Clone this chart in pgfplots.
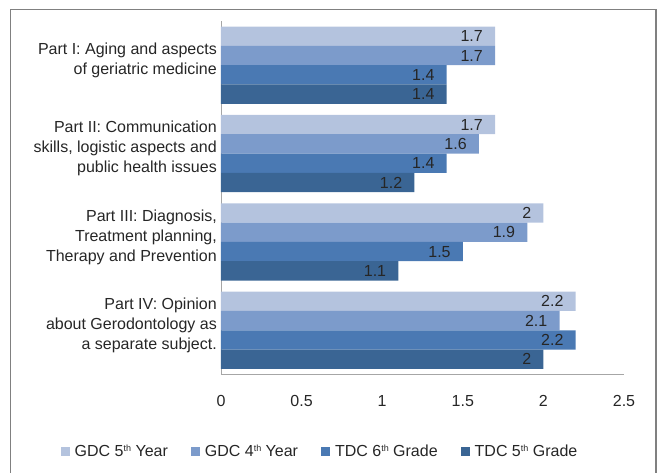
\documentclass[border=0pt]{standalone}
\usepackage{pgfplots}
\pgfplotsset{compat=1.18}
\usepackage{fontspec}
\setmainfont{Liberation Sans}
\definecolor{cA}{HTML}{B4C3DE}
\definecolor{cB}{HTML}{7C9BCB}
\definecolor{cC}{HTML}{4A79B3}
\definecolor{cD}{HTML}{3A6594}
\definecolor{txt}{HTML}{262626}
\definecolor{axgray}{HTML}{A6A6A6}
\newcommand{\sups}[1]{\raisebox{5pt}{\fontsize{9}{9}\selectfont #1}}
\begin{document}
\begin{tikzpicture}[x=1pt,y=1pt]
\useasboundingbox (0,0) rectangle (657,473);
\draw[color=black!50, line width=1.2pt] (10.5,-5) -- (10.5,463.5) -- (656,463.5) -- (656,-5);
\begin{axis}[
  at={(221pt,98.5pt)}, anchor=south west,
  scale only axis, width=403pt, height=353.5pt,
  xbar, bar width=0.2185,
  xmin=0, xmax=2.5, ymin=-0.5, ymax=3.5,
  axis x line*=bottom, axis y line*=left,
  axis line style={axgray, line width=0.9pt, -},
  xtick={0,0.5,1,1.5,2,2.5},
  ytick={0,1,2,3},
  yticklabels={{Part IV: Opinion\\about Gerodontology as\\a separate subject.},
               {Part III: Diagnosis,\\Treatment planning,\\Therapy and Prevention},
               {Part II: Communication\\skills, logistic aspects and\\public health issues},
               {Part I: Aging and aspects\\of geriatric medicine}},
  major tick length=0pt,
  /pgf/number format/assume math mode=true,
  tick label style={font=\fontsize{16}{20}\selectfont, text=txt},
  yticklabel style={align=right, yshift=5pt, inner sep=4pt},
  xticklabel style={yshift=-17pt},
  nodes near coords,
  every node near coord/.append style={anchor=east, xshift=-12pt, inner sep=0pt,
     font=\fontsize{16}{18}\selectfont, text=txt},
  legend columns=4,
  legend style={at={(0.2457,-0.219)}, anchor=center, draw=none, fill=none,
     font=\fontsize{16}{18}\selectfont, text=txt,
     /tikz/every even column/.append style={column sep=21pt},
     /tikz/every odd column/.append style={column sep=3pt}},
  legend image code/.code={\fill[#1] (0pt,-4.5pt) rectangle (9pt,4.5pt);},
]
\addplot[fill=cA, draw=none, bar shift=0.32775] coordinates {(1.7,3) (1.7,2) (2,1) (2.2,0)};
\addplot[fill=cB, draw=none, bar shift=0.10925] coordinates {(1.7,3) (1.6,2) (1.9,1) (2.1,0)};
\addplot[fill=cC, draw=none, bar shift=-0.10925] coordinates {(1.4,3) (1.4,2) (1.5,1) (2.2,0)};
\addplot[fill=cD, draw=none, bar shift=-0.32775] coordinates {(1.4,3) (1.2,2) (1.1,1) (2,0)};
\legend{GDC 5\sups{th} Year, GDC 4\sups{th} Year, TDC 6\sups{th} Grade, TDC 5\sups{th} Grade}
\end{axis}
\end{tikzpicture}
\end{document}
